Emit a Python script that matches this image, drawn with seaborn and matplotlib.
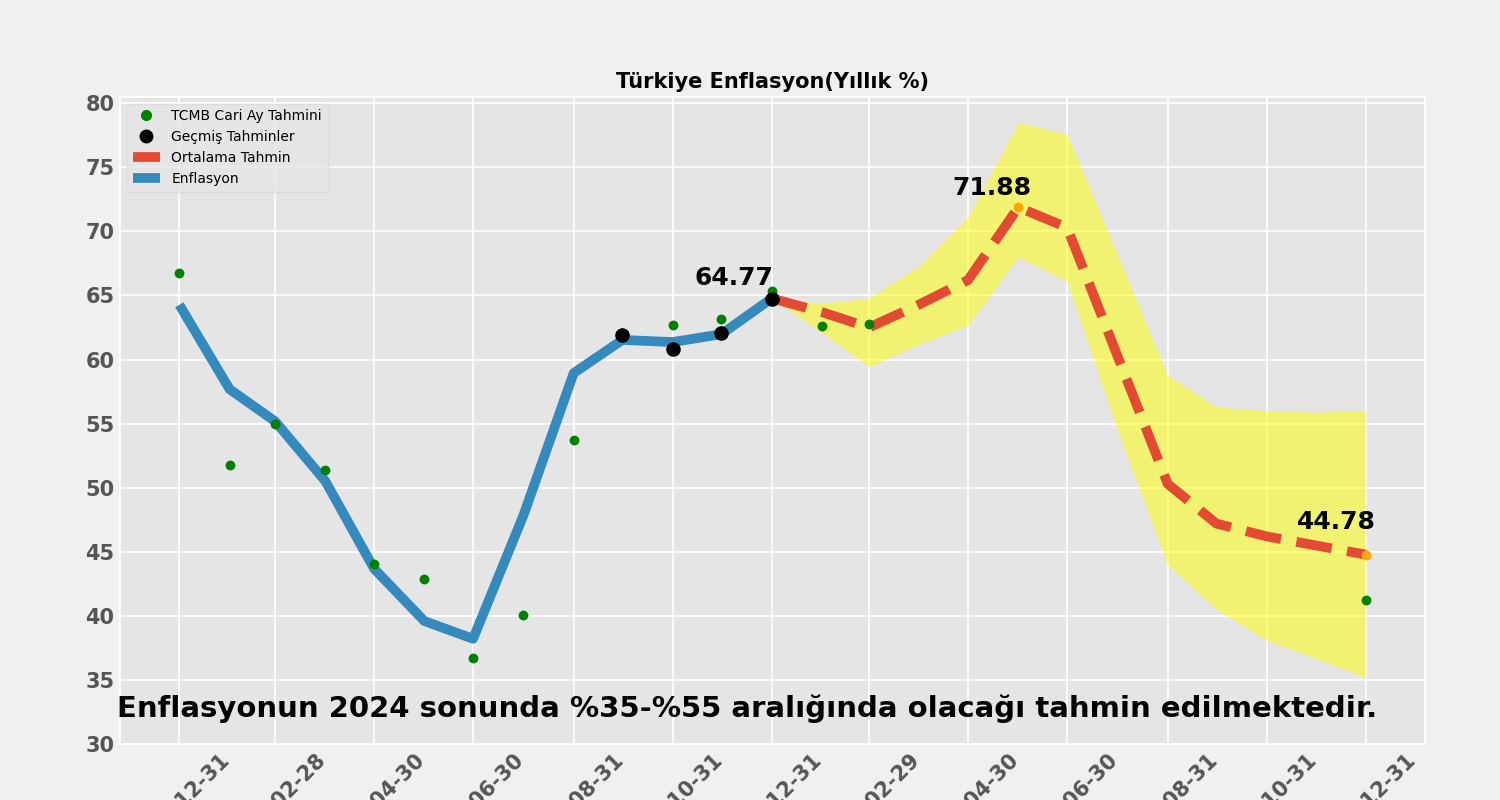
import matplotlib
matplotlib.use("Agg")
import matplotlib.pyplot as plt
from matplotlib.lines import Line2D
import seaborn as sns
import pandas as pd

# month-end dates
all_months = pd.date_range("2022-12-31", "2024-12-31", freq="ME")
hist_months = all_months[:13]          # 2022-12 .. 2023-12
fc_months = all_months[12:]            # 2023-12 .. 2024-12

# realised annual inflation
enflasyon = [64.27, 57.68, 55.18, 50.51, 43.68, 39.59, 38.21, 47.83,
             58.94, 61.53, 61.36, 61.98, 64.77]

# TCMB current month estimates
tcmb_months = list(all_months[:15]) + [all_months[-1]]
tcmb = [66.72, 51.78, 55.0, 51.38, 44.04, 42.87, 36.7, 40.05,
        53.73, 62.05, 62.71, 63.2, 65.31, 62.63, 62.8, 41.25]

# past forecasts
gecmis_months = all_months[9:13]
gecmis = [61.95, 60.86, 62.08, 64.7]

# mean forecast + band
ortalama = [64.77, 63.7, 62.5, 64.3, 66.2, 71.88, 70.3, 60.3,
            50.3, 47.2, 46.2, 45.5, 44.78]
ust = [64.77, 64.4, 64.8, 67.3, 71.1, 78.5, 77.6, 68.2,
       58.75, 56.3, 56.0, 55.9, 56.0]
alt = [64.77, 62.1, 59.45, 61.2, 62.7, 68.0, 66.1, 54.5,
       44.0, 40.5, 38.1, 36.7, 35.2]

# labelled points: (date, value, x offset pt, y offset pt)
etiketler = [("2023-12-31", 64.77, -27, 6),
             ("2024-05-31", 71.88, -19, 5),
             ("2024-12-31", 44.78, -21, 15)]

tick_dates = pd.date_range("2022-12-31", "2024-12-31", freq="2ME")

sns.set_theme(style="darkgrid", rc={
    "axes.facecolor": "#E5E5E5",
    "figure.facecolor": "#F0F0F0",
    "grid.color": "white",
    "grid.linewidth": 1.2,
    "axes.edgecolor": "white",
    "text.color": "black",
})
plt.rcParams["font.family"] = ["DejaVu Sans"]

df_hist = pd.DataFrame({"Tarih": hist_months, "Deger": enflasyon})
df_fc = pd.DataFrame({"Tarih": fc_months, "Deger": ortalama, "Ust": ust, "Alt": alt})
df_tcmb = pd.DataFrame({"Tarih": tcmb_months, "Deger": tcmb})
df_gecmis = pd.DataFrame({"Tarih": gecmis_months, "Deger": gecmis})

fig = plt.figure(figsize=(15, 8), dpi=100)
ax = fig.add_subplot(111)
fig.subplots_adjust(left=0.08, right=0.95, bottom=0.07, top=0.879)

ax.fill_between(df_fc["Tarih"], df_fc["Alt"], df_fc["Ust"],
                color="yellow", alpha=0.5, linewidth=0, zorder=1)
sns.lineplot(data=df_hist, x="Tarih", y="Deger", ax=ax, color="#348ABD",
             linewidth=7, zorder=2, solid_capstyle="butt")
sns.lineplot(data=df_fc, x="Tarih", y="Deger", ax=ax, color="#E24A33",
             linewidth=7, linestyle="--", zorder=3, dash_capstyle="butt")
sns.scatterplot(data=df_tcmb, x="Tarih", y="Deger", ax=ax, color="green",
                s=50, linewidth=0, zorder=4)
sns.scatterplot(data=df_gecmis, x="Tarih", y="Deger", ax=ax, color="black",
                s=110, linewidth=0, zorder=5)

lab_dates = pd.to_datetime([e[0] for e in etiketler])
lab_vals = [e[1] for e in etiketler]
sns.scatterplot(x=lab_dates[1:], y=lab_vals[1:], ax=ax, color="orange",
                s=50, linewidth=0, zorder=5)
for (d, v, dx, dy) in etiketler:
    ax.annotate(f"{v:.2f}", (pd.Timestamp(d), v), xytext=(dx, dy),
                textcoords="offset points", ha="center", va="bottom",
                fontsize=18, fontweight="bold", color="black", zorder=6)

ax.set_ylim(30, 80.5)
ax.set_xticks(tick_dates)
ax.set_xticklabels([d.strftime("%Y-%m-%d") for d in tick_dates],
                   rotation=45, fontsize=15, fontweight="bold", color="#555555")
ax.set_yticks(range(30, 81, 5))
ax.set_yticklabels([str(v) for v in range(30, 81, 5)],
                   fontsize=15, fontweight="bold", color="#555555")
ax.tick_params(axis="both", length=0, pad=4)
ax.set_xlabel("")
ax.set_ylabel("")
ax.set_title("Türkiye Enflasyon(Yıllık %)", fontsize=15, fontweight="bold",
             color="black", pad=6)

ax.text(0.4805, 0.054, "Enflasyonun 2024 sonunda %35-%55 aralığında olacağı tahmin edilmektedir.",
        transform=ax.transAxes, ha="center", va="center",
        fontsize=21, fontweight="bold", color="black", zorder=7)

handles = [
    Line2D([], [], marker="o", linestyle="", color="green", markersize=7),
    Line2D([], [], marker="o", linestyle="", color="black", markersize=9),
    Line2D([], [], color="#E24A33", linewidth=7, solid_capstyle="butt"),
    Line2D([], [], color="#348ABD", linewidth=7, solid_capstyle="butt"),
]
labels = ["TCMB Cari Ay Tahmini", "Geçmiş Tahminler", "Ortalama Tahmin", "Enflasyon"]
leg = ax.legend(handles, labels, loc="upper left", fontsize=10,
                frameon=True, facecolor="#E5E5E5", edgecolor="#DDDDDD",
                framealpha=0.8, labelcolor="black")

fig.savefig("out.png", dpi=100, facecolor=fig.get_facecolor())
